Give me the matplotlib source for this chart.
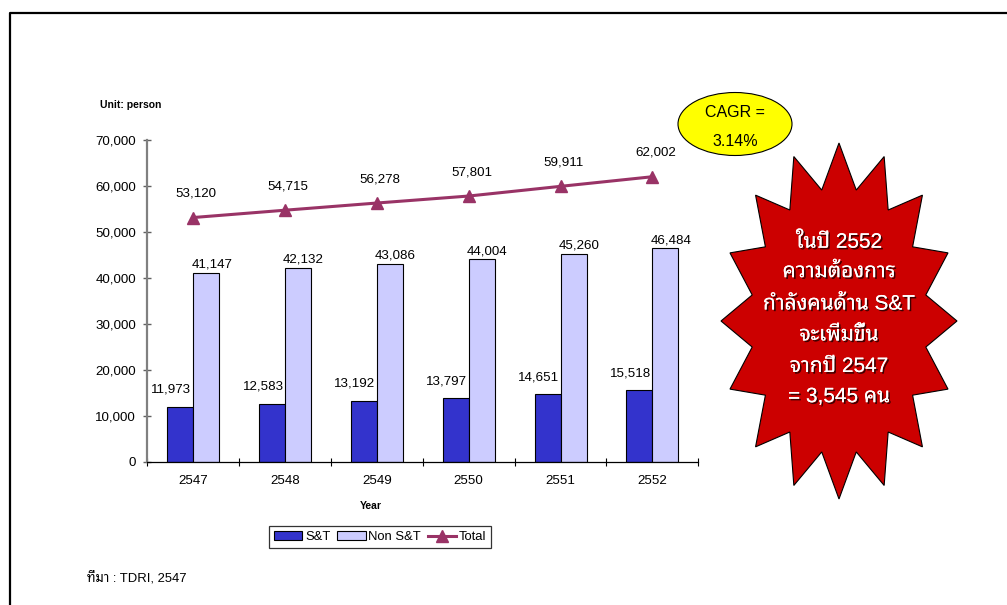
import numpy as np
import matplotlib
matplotlib.use("Agg")
import matplotlib.pyplot as plt
from matplotlib import font_manager as fm
from matplotlib.patches import Patch, Polygon, Ellipse
from matplotlib.lines import Line2D
import matplotlib.patheffects as pe
from matplotlib.ticker import FuncFormatter

# ---------------- data ----------------
years = ["2547", "2548", "2549", "2550", "2551", "2552"]
st_values = [11973, 12583, 13192, 13797, 14651, 15518]
nonst_values = [41147, 42132, 43086, 44004, 45260, 46484]
total_values = [53120, 54715, 56278, 57801, 59911, 62002]
series_names = ["S&T", "Non S&T", "Total"]
y_ticks = [0, 10000, 20000, 30000, 40000, 50000, 60000, 70000]
cagr_lines = ["CAGR =", "3.14%"]
burst_lines = ["ในปี 2552", "ความต้องการ", "กำลังคนด้าน S&T",
               "จะเพิ่มขึ้น", "จากปี 2547", "= 3,545 คน"]
unit_text = "Unit: person"
xlabel_text = "Year"
source_text = "ที่มา : TDRI, 2547"

# ---------------- fonts ----------------
def find_thai_font():
    try:
        from fontTools.ttLib import TTFont
    except Exception:
        return None
    found = []
    seen = set()
    for fe in fm.fontManager.ttflist:
        if fe.fname in seen:
            continue
        seen.add(fe.fname)
        try:
            tt = TTFont(fe.fname, fontNumber=0, lazy=True)
            cmap = tt.getBestCmap()
            if cmap and 0x0E01 in cmap and 0x0E49 in cmap:
                found.append(fe.name)
        except Exception:
            pass
    if not found:
        return None
    prefs = ["Tahoma", "Noto Sans Thai", "Loma", "Garuda", "Sarabun",
             "Umpush", "Waree", "Tlwg Typist", "FreeSans"]
    for p in prefs:
        for n in found:
            if n.lower().startswith(p.lower()):
                return n
    for n in found:
        if "sans" in n.lower():
            return n
    return found[0]

thai = find_thai_font()
latin = "Liberation Sans"
fam = [latin, "DejaVu Sans"]
thai_fam = [latin] + ([thai] if thai else []) + ["DejaVu Sans"]
plt.rcParams["font.family"] = fam

W, H = 1007, 605
fig = plt.figure(figsize=(W / 100, H / 100), dpi=100)
fig.patch.set_facecolor("white")

def fx(px):
    return px / W

def fy(py):
    return 1 - py / H

ax_left, ax_right, ax_top, ax_bot = 147.3, 698.3, 140.0, 461.5
ax = fig.add_axes([fx(ax_left), fy(ax_bot), (ax_right - ax_left) / W, (ax_bot - ax_top) / H])

c_st = "#3333CC"
c_non = "#CCCCFF"
c_tot = "#993366"

x = np.arange(len(years))
bw = 0.283
ax.bar(x - bw / 2, st_values, bw, color=c_st, edgecolor="black", linewidth=0.8, zorder=2)
ax.bar(x + bw / 2, nonst_values, bw, color=c_non, edgecolor="black", linewidth=0.8, zorder=2)
ax.plot(x, total_values, color=c_tot, lw=2.2, marker="^", markersize=9,
        markeredgecolor=c_tot, zorder=3)

lab_fs = 9.6
for xi, v in zip(x, st_values):
    ax.annotate(f"{v:,}", (xi - bw / 2, v), xytext=(-9, 17), textcoords="offset pixels",
                ha="center", va="center", fontsize=lab_fs)
for xi, v in zip(x, nonst_values):
    ax.annotate(f"{v:,}", (xi + bw / 2, v), xytext=(5.5, 8), textcoords="offset pixels",
                ha="center", va="center", fontsize=lab_fs)
for xi, v in zip(x, total_values):
    ax.annotate(f"{v:,}", (xi, v), xytext=(3, 24), textcoords="offset pixels",
                ha="center", va="center", fontsize=lab_fs)

ax.set_xlim(-0.5, len(years) - 0.5)
ax.set_ylim(0, 70000)
ax.set_yticks(y_ticks)
ax.yaxis.set_major_formatter(FuncFormatter(lambda v, p: f"{int(v):,}"))
ax.set_xticks(np.arange(-0.5, len(years), 1.0))
ax.set_xticklabels([])
ax.set_xticks(x, minor=True)
ax.set_xticklabels(years, minor=True)
ax.tick_params(axis="x", which="major", direction="inout", length=6, width=0.8, color="black")
ax.tick_params(axis="x", which="minor", length=0, pad=10, labelsize=9.6)
ax.tick_params(axis="y", direction="inout", length=6, width=1.0, color="#606060",
               pad=5, labelsize=9.6)
for s in ["top", "right"]:
    ax.spines[s].set_visible(False)
ax.spines["left"].set_color("#808080")
ax.spines["left"].set_linewidth(1.6)
ax.spines["bottom"].set_color("black")
ax.spines["bottom"].set_linewidth(0.9)

# texts around the chart
fig.text(fx(100), fy(105), unit_text, ha="left", va="center", fontsize=7.5, fontweight="bold")
fig.text(fx(371), fy(506), xlabel_text, ha="center", va="center", fontsize=7.5, fontweight="bold")
fig.text(fx(87), fy(578), source_text, ha="left", va="center", fontsize=9.4, family=thai_fam)

# legend
handles = [Patch(facecolor=c_st, edgecolor="black", linewidth=0.8),
           Patch(facecolor=c_non, edgecolor="black", linewidth=0.8),
           Line2D([0], [0], color=c_tot, lw=2.2, marker="^", markersize=8)]
leg = fig.legend(handles, series_names, loc="center", bbox_to_anchor=(fx(380), fy(537)),
                 ncol=3, fontsize=9.4, frameon=True, fancybox=False, handlelength=2.2,
                 handleheight=0.6, handletextpad=0.2, columnspacing=0.5, borderpad=0.35,
                 borderaxespad=0)
leg.get_frame().set_edgecolor("black")
leg.get_frame().set_linewidth(0.9)

# outer frame (open on the right and bottom)
fig.add_artist(Line2D([fx(10), fx(10), fx(W + 10)], [fy(H + 10), fy(13.3), fy(13.3)],
                      transform=fig.transFigure, color="black", lw=1.6))

# CAGR ellipse
fig.add_artist(Ellipse((fx(735), fy(124)), 114 / W, 63 / H, transform=fig.transFigure,
                       facecolor="#FFFF00", edgecolor="black", lw=0.8))
fig.text(fx(735), fy(112.5), cagr_lines[0], ha="center", va="center", fontsize=11.5)
fig.text(fx(735), fy(141.5), cagr_lines[1], ha="center", va="center", fontsize=11.5)

# starburst
cx, cy, rx, ry = 839, 321, 118, 178
n_pts = 16
inner = 0.75
verts = []
for k in range(2 * n_pts):
    a = np.pi / 2 + k * np.pi / n_pts
    r = 1.0 if k % 2 == 0 else inner
    verts.append((fx(cx + rx * r * np.cos(a)), fy(cy - ry * r * np.sin(a))))
fig.add_artist(Polygon(verts, closed=True, transform=fig.transFigure,
                       facecolor="#CC0000", edgecolor="black", lw=0.8))
line_y = [241.7, 271.7, 304, 335, 366.5, 396.7]
for t, yy in zip(burst_lines, line_y):
    fig.text(fx(839), fy(yy), t, ha="center", va="center", fontsize=15, color="white",
             family=thai_fam,
             path_effects=[pe.withSimplePatchShadow(offset=(1.2, -1.2), shadow_rgbFace="black",
                                                    alpha=0.7), pe.Normal()])

fig.savefig("out.png", dpi=100, facecolor="white")
